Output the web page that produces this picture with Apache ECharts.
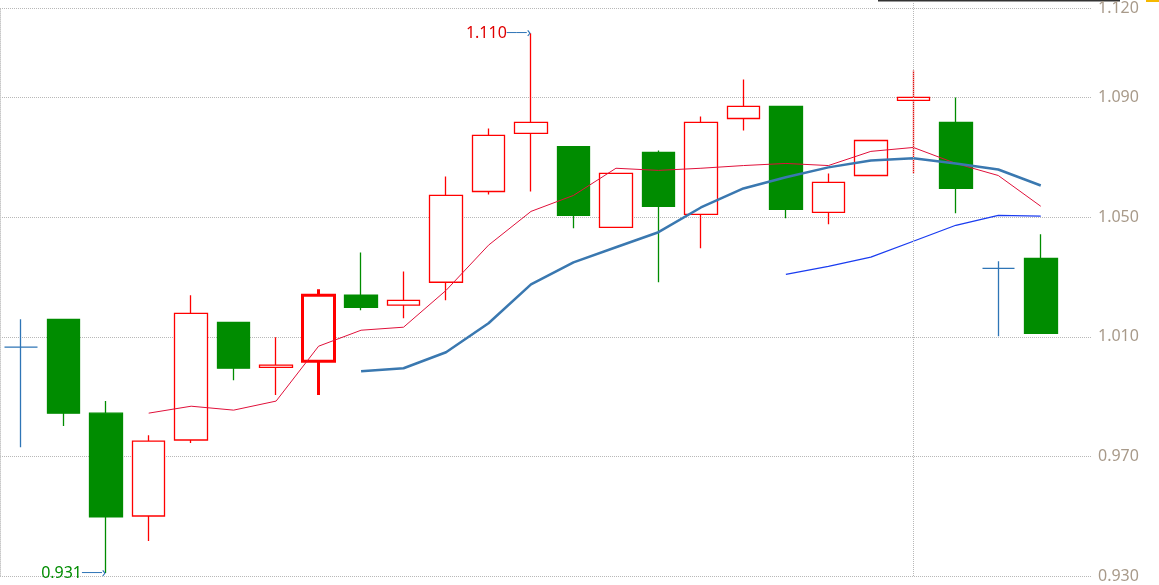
<!DOCTYPE html>
<html>
<head>
<meta charset="utf-8">
<script src="https://cdn.jsdelivr.net/npm/echarts@6/dist/echarts.min.js"></script>
<style>html,body{margin:0;padding:0;background:#fff}#main{width:1159px;height:585px}</style>
</head>
<body>
<div id="main"></div>
<script>
// K线数据 [开盘, 收盘, 最低, 最高]
var days = ['1','2','3','4','5','6','7','8','9','10','11','12','13','14','15','16','17','18','19','20','21','22','23','24','25'];
var kData = [
    [1.0059, 1.0059, 0.9727, 1.0151],
    [1.0151, 0.9840, 0.9797, 1.0151],
    [0.9840, 0.9496, 0.9310, 0.9880],
    [0.9499, 0.9747, 0.9416, 0.9767],
    [0.9751, 1.0171, 0.9741, 1.0231],
    [1.0141, 0.9989, 0.9949, 1.0141],
    [0.9992, 0.9999, 0.9900, 1.0092],
    [1.0012, 1.0231, 0.9900, 1.0251],
    [1.0231, 1.0191, 1.0181, 1.0373],
    [1.0198, 1.0214, 1.0155, 1.0310],
    [1.0274, 1.0562, 1.0214, 1.0625],
    [1.0575, 1.0761, 1.0565, 1.0784],
    [1.0768, 1.0804, 1.0575, 1.1100],
    [1.0724, 1.0496, 1.0453, 1.0724],
    [1.0456, 1.0635, 1.0456, 1.0635],
    [1.0705, 1.0526, 1.0274, 1.0711],
    [1.0499, 1.0804, 1.0387, 1.0824],
    [1.0817, 1.0857, 1.0777, 1.0946],
    [1.0857, 1.0516, 1.0486, 1.0857],
    [1.0506, 1.0605, 1.0466, 1.0635],
    [1.0628, 1.0744, 1.0628, 1.0744],
    [1.0877, 1.0887, 1.0635, 1.0976],
    [1.0804, 1.0585, 1.0503, 1.0887],
    [1.0320, 1.0320, 1.0095, 1.0344],
    [1.0353, 1.0105, 1.0105, 1.0433]
];
var ma5 = ['-','-','-',0.9840,0.9863,0.9850,0.9880,1.0062,1.0115,1.0125,1.0247,1.0397,1.0509,1.0562,1.0652,1.0645,1.0652,1.0661,1.0668,1.0661,1.0708,1.0721,1.0668,1.0628,1.0526];
var ma10 = ['-','-','-','-','-','-','-','-',0.9979,0.9989,1.0042,1.0138,1.0267,1.0340,1.0390,1.0440,1.0522,1.0585,1.0622,1.0655,1.0678,1.0685,1.0668,1.0648,1.0595];
var ma20 = ['-','-','-','-','-','-','-','-','-','-','-','-','-','-','-','-','-','-',1.0300,1.0327,1.0357,1.0410,1.0463,1.0496,1.0493];
var axisBase = 0.930;

var candles = kData.map(function (d, i) {
    var item = { value: d };
    if (d[0] === d[1]) {
        item.itemStyle = { color: '#2e75b6', color0: '#2e75b6', borderColor: '#2e75b6', borderColor0: '#2e75b6' };
    }
    if (i === 7) {
        item.itemStyle = { borderWidth: 3 };
    }
    return item;
});

var myChart = echarts.init(document.getElementById('main'));
var option = {
    animation: false,
    textStyle: { fontFamily: 'Noto Sans' },
    grid: [
        { left: -1, right: 97, top: 3, bottom: 9 },
        { left: 0, right: 67, top: 3, bottom: 9 }
    ],
    xAxis: [
        { type: 'category', data: days, gridIndex: 0, show: false, boundaryGap: true },
        { type: 'value', gridIndex: 1, show: false }
    ],
    yAxis: [
        { type: 'value', gridIndex: 0, min: 0.930, max: 1.12, show: false },
        {
            type: 'value', gridIndex: 1, position: 'right', min: 0, max: 0.19, interval: 0.04,
            axisLine: { show: true, lineStyle: { color: '#c8c8c8', type: 'dotted' } },
            axisTick: { show: false },
            splitLine: { lineStyle: { color: '#b8b8b8', type: 'dotted' } },
            axisLabel: {
                color: '#a89a8a', fontSize: 16, margin: 6,
                formatter: function (v) { return (v + axisBase).toFixed(3); }
            }
        }
    ],
    series: [{
        type: 'candlestick',
        data: candles,
        barWidth: 33,
        itemStyle: {
            color: '#ffffff', color0: '#008c00',
            borderColor: '#ff0000', borderColor0: '#008c00', borderWidth: 1.3
        },
        markPoint: {
            symbol: 'circle', symbolSize: 0,
            data: [
                { coord: [12, 1.110], label: { formatter: '{a|1.110}{b|──›}', color: '#e00000' } },
                { coord: [2, 0.931], label: { formatter: '{c|0.931}{b|──›}' } }
            ],
            label: {
                position: 'left', distance: 0, fontSize: 16,
                rich: {
                    a: { color: '#e00000', fontSize: 16 },
                    c: { color: '#008c00', fontSize: 16 },
                    b: { color: '#2e75b6', fontSize: 14 }
                }
            }
        },
        markLine: {
            symbol: 'none', silent: true, label: { show: false },
            lineStyle: { color: '#b8b8b8', type: 'dotted', width: 1 },
            data: [{ xAxis: 21 }]
        }
    }, {
        type: 'line', data: ma5, symbol: 'none', smooth: false,
        lineStyle: { color: '#e0103a', width: 1 }
    }, {
        type: 'line', data: ma10, symbol: 'none',
        lineStyle: { color: '#3a78b0', width: 2.5 }
    }, {
        type: 'line', data: ma20, symbol: 'none',
        lineStyle: { color: '#1a3cf0', width: 1.3 }
    }],
    graphic: [
        { type: 'rect', shape: { x: 878, y: 0, width: 242, height: 1.5 }, style: { fill: '#333' } },
        { type: 'rect', shape: { x: 1146, y: 0, width: 13, height: 2 }, style: { fill: '#f5b800' } }
    ]
};
myChart.setOption(option);
</script>
</body>
</html>
